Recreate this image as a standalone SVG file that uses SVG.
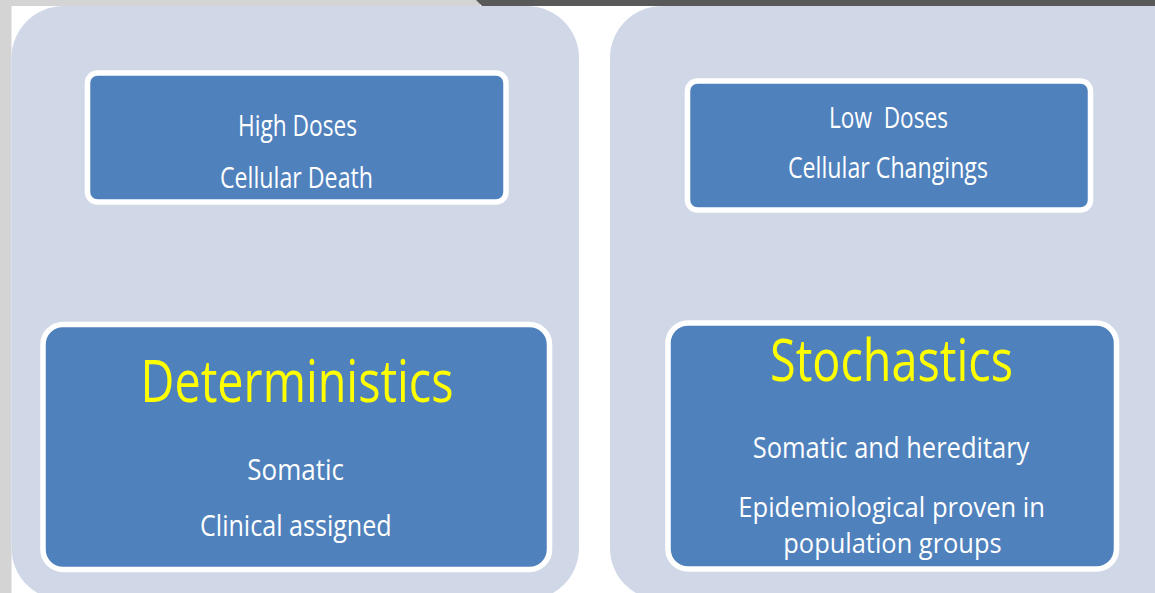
<svg xmlns="http://www.w3.org/2000/svg" width="1155" height="593" viewBox="0 0 1155 593">
<style>
.panel{fill:#d0d8e8}
.box{fill:#4f81bd;stroke:#ffffff;stroke-width:5.5}
.t{font-family:"Open Sans","Liberation Sans",sans-serif;fill:#ffffff;font-size:30px}
.s{font-size:28px}
.title{font-family:"Open Sans","Liberation Sans",sans-serif;fill:#ffff00;font-size:59px}
</style>
<rect x="0" y="0" width="1155" height="593" fill="#ffffff"/>
<rect x="0" y="0" width="480" height="6" fill="#d4d4d4"/>
<polygon points="476,0 1155,0 1155,6 482,6" fill="#595959"/>
<rect x="0" y="0" width="11.5" height="593" fill="#d4d4d4"/>
<g id="panel-left"><rect class="panel" x="11.5" y="6" width="567.5" height="594" rx="52" ry="52"/></g>
<g id="panel-right"><rect class="panel" x="610" y="6" width="600" height="594" rx="52" ry="52"/></g>
<g id="high-doses">
<rect class="box" x="87.5" y="73" width="418.5" height="129" rx="10" ry="10"/>
<text class="t" x="238" y="136" textLength="119" lengthAdjust="spacingAndGlyphs">High Doses</text>
<text class="t" x="220" y="188" textLength="153" lengthAdjust="spacingAndGlyphs">Cellular Death</text>
</g>
<g id="low-doses">
<rect class="box" x="687.5" y="81" width="403" height="129" rx="10" ry="10"/>
<text class="t" x="829" y="128" textLength="119" lengthAdjust="spacingAndGlyphs" xml:space="preserve">Low  Doses</text>
<text class="t" x="788" y="178" textLength="200" lengthAdjust="spacingAndGlyphs">Cellular Changings</text>
</g>
<g id="deterministics">
<rect class="box" x="43" y="324.5" width="506.5" height="245" rx="20" ry="20"/>
<text class="title" x="140.5" y="401.5" textLength="313" lengthAdjust="spacingAndGlyphs">Deterministics</text>
<text class="t" x="247.3" y="480" textLength="96.7" lengthAdjust="spacingAndGlyphs">Somatic</text>
<text class="t" x="200" y="536" textLength="191.7" lengthAdjust="spacingAndGlyphs">Clinical assigned</text>
</g>
<g id="stochastics">
<rect class="box" x="668" y="323" width="448.5" height="246" rx="20" ry="20"/>
<text class="title" x="770" y="380.7" textLength="243" lengthAdjust="spacingAndGlyphs">Stochastics</text>
<text class="t" x="752.7" y="457.7" textLength="276.7" lengthAdjust="spacingAndGlyphs">Somatic and hereditary</text>
<text class="t s" x="738.3" y="516.7" textLength="306.7" lengthAdjust="spacingAndGlyphs">Epidemiological proven in</text>
<text class="t s" x="783.3" y="553.3" textLength="218.3" lengthAdjust="spacingAndGlyphs">population groups</text>
</g>
<g id="connectors"></g>
</svg>
